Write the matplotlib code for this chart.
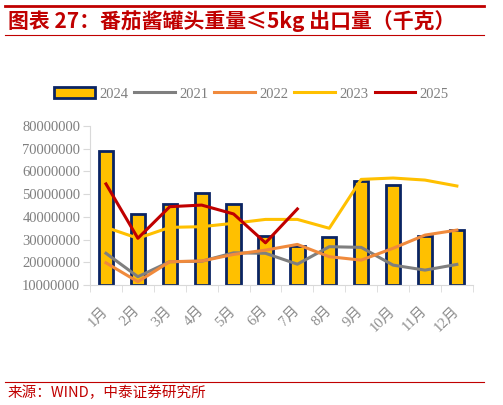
import matplotlib.pyplot as plt
from matplotlib.patches import Patch
from matplotlib.lines import Line2D
import numpy as np

months = ['1月', '2月', '3月', '4月', '5月', '6月', '7月', '8月', '9月', '10月', '11月', '12月']
v2024 = [69.0e6, 41.1e6, 45.5e6, 50.4e6, 45.5e6, 31.7e6, 27.2e6, 31.3e6, 55.9e6, 53.9e6, 31.6e6, 34.2e6]
v2021 = [24.0e6, 13.7e6, 20.3e6, 20.5e6, 24.2e6, 24.0e6, 19.2e6, 26.9e6, 26.6e6, 18.8e6, 16.6e6, 19.1e6]
v2022 = [19.8e6, 11.5e6, 20.3e6, 20.6e6, 23.5e6, 25.4e6, 27.9e6, 22.5e6, 21.0e6, 26.2e6, 32.0e6, 34.2e6]
v2023 = [35.4e6, 30.6e6, 35.4e6, 35.7e6, 37.2e6, 38.9e6, 38.9e6, 35.0e6, 56.5e6, 57.1e6, 56.2e6, 53.6e6]
v2025 = [54.5e6, 30.6e6, 44.5e6, 45.2e6, 41.3e6, 28.6e6, 43.5e6]

plt.rcParams['font.family'] = ['Noto Sans CJK SC', 'DejaVu Sans']

fig = plt.figure(figsize=(5.03, 4.05), dpi=100)
ax = fig.add_axes([0.179, 0.296, 0.761, 0.393])

x = np.arange(len(months))
base = 1e7
ax.bar(x, np.array(v2024) - base, bottom=base, width=0.45, color='#FFC000',
       edgecolor='#0A2463', linewidth=2, zorder=2)
ax.plot(x, v2021, color='#7F7F7F', lw=2.2, zorder=3)
ax.plot(x, v2022, color='#F08A3C', lw=2.2, zorder=3)
ax.plot(x, v2023, color='#FFC000', lw=2.2, zorder=3)
ax.plot(x[:len(v2025)], v2025, color='#C00000', lw=2.2, zorder=4)

ax.set_xlim(-0.5, 11.5)
ax.set_ylim(1e7, 8e7)
ax.set_yticks(np.arange(1e7, 8.01e7, 1e7))
ax.set_yticklabels(['%d' % v for v in np.arange(10000000, 80000001, 10000000)],
                   family='Liberation Serif', fontsize=10.5, color='#7F7F7F')
ax.set_xticks(x)
ax.set_xticklabels(months, rotation=45, ha='right', va='center', rotation_mode='anchor',
                   fontsize=10.5, color='#8C8C8C',
                   family=['Liberation Serif', 'Noto Sans CJK SC'])
ax.set_xticks(np.arange(-0.5, 12, 1), minor=True)
ax.tick_params(axis='x', which='major', length=0, pad=17)
ax.tick_params(axis='x', which='minor', length=5, color='#D9D9D9')
ax.tick_params(axis='y', length=5, color='#D9D9D9', pad=2)

for s in ['top', 'right']:
    ax.spines[s].set_visible(False)
ax.spines['left'].set_color('#D9D9D9')
ax.spines['bottom'].set_color('#D9D9D9')

handles = [Patch(facecolor='#FFC000', edgecolor='#0A2463', linewidth=2),
           Line2D([], [], color='#7F7F7F', lw=2.2),
           Line2D([], [], color='#F08A3C', lw=2.2),
           Line2D([], [], color='#FFC000', lw=2.2),
           Line2D([], [], color='#C00000', lw=2.2)]
leg = fig.legend(handles, ['2024', '2021', '2022', '2023', '2025'], loc='center',
                 bbox_to_anchor=(0.5, 0.768), ncol=5, frameon=False,
                 handlelength=2.8, handleheight=0.8, columnspacing=0.4, handletextpad=0.3,
                 prop={'family': 'Liberation Serif', 'size': 10.5})
for t in leg.get_texts():
    t.set_color('#7F7F7F')

# title block
fig.add_artist(Line2D([0.01, 0.962], [0.985, 0.985], color='#C00000', lw=2))
fig.add_artist(Line2D([0.01, 0.962], [0.913, 0.913], color='#C00000', lw=0.8))
fig.text(0.016, 0.948, '图表 27：番茄酱罐头重量≤5kg 出口量（千克）', color='#C00000',
         fontsize=15, fontweight='bold', style='italic', va='center')

fig.add_artist(Line2D([0.01, 0.962], [0.057, 0.057], color='#C00000', lw=0.8))
fig.text(0.014, 0.029, '来源：WIND，中泰证券研究所', color='#C00000', fontsize=10.5, va='center')

fig.savefig('out.png', dpi=100)
